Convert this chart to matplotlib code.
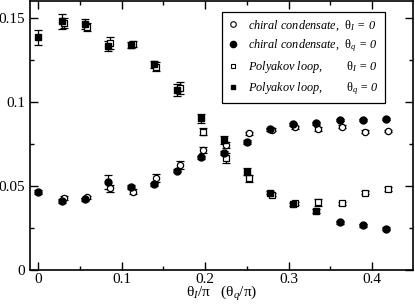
import numpy as np
import matplotlib
matplotlib.use("Agg")
import matplotlib.pyplot as plt
from matplotlib.lines import Line2D
from matplotlib.ticker import MultipleLocator, FormatStrFormatter

plt.rcParams["font.family"] = "Liberation Serif"
plt.rcParams["mathtext.fontset"] = "custom"
plt.rcParams["mathtext.rm"] = "Liberation Serif"
plt.rcParams["mathtext.it"] = "Liberation Serif:italic"

# theta_q/pi for the theta_q = 0 runs, theta_I/pi (shifted a bit) for theta_I = 0
x_q = [0.0, 0.0278, 0.0556, 0.0833, 0.1111, 0.1389, 0.1667, 0.1944,
       0.2222, 0.25, 0.2778, 0.3056, 0.3333, 0.3611, 0.3889, 0.4167]
x_i = [0.0303, 0.0581, 0.0858, 0.1136, 0.1414, 0.1692, 0.1969,
       0.2247, 0.2525, 0.2803, 0.3081, 0.3358, 0.3636, 0.3914, 0.4192]

chiral_q = [0.0462, 0.0412, 0.0420, 0.0524, 0.0492, 0.0510, 0.0591, 0.0670,
            0.0694, 0.0764, 0.0837, 0.0867, 0.0873, 0.0893, 0.0893, 0.0899]
chiral_q_err = [0.0012, 0.0012, 0.0010, 0.0040, 0.0012, 0.0010, 0.0010, 0.0010,
                0.0012, 0.0012, 0.0008, 0.0008, 0.0008, 0.0008, 0.0008, 0.0008]

chiral_i = [0.0427, 0.0432, 0.0486, 0.0466, 0.0546, 0.0625, 0.0714,
            0.0744, 0.0813, 0.0835, 0.0849, 0.0839, 0.0853, 0.0823, 0.0827]
chiral_i_err = [0.0012, 0.0010, 0.0020, 0.0015, 0.0025, 0.0025, 0.0015,
                0.0020, 0.0010, 0.0008, 0.0008, 0.0012, 0.0008, 0.0010, 0.0008]

poly_q = [0.1385, 0.1480, 0.1464, 0.1335, 0.1339, 0.1224, 0.1071, 0.0903,
          0.0774, 0.0585, 0.0460, 0.0391, 0.0351, 0.0284, 0.0266, 0.0246]
poly_q_err = [0.0045, 0.0045, 0.0030, 0.0030, 0.0020, 0.0020, 0.0035, 0.0028,
              0.0025, 0.0022, 0.0010, 0.0008, 0.0010, 0.0008, 0.0008, 0.0008]

poly_i = [0.1472, 0.1444, 0.1349, 0.1345, 0.1210, 0.1085, 0.0823,
          0.0664, 0.0545, 0.0448, 0.0397, 0.0403, 0.0397, 0.0460, 0.0482]
poly_i_err = [0.0030, 0.0025, 0.0035, 0.0020, 0.0028, 0.0035, 0.0020,
              0.0030, 0.0020, 0.0010, 0.0010, 0.0022, 0.0010, 0.0010, 0.0010]

labels = [r"chiral condensate,  $\mathrm{\theta}_I$ = 0",
          r"chiral condensate,  $\mathrm{\theta}_q$ = 0",
          r"Polyakov loop,        $\mathrm{\theta}_I$ = 0",
          r"Polyakov loop,        $\mathrm{\theta}_q$ = 0"]

fig = plt.figure(figsize=(4.15, 3.06), dpi=100)
ax = fig.add_axes([0.0723, 0.1176, 0.9227, 0.879])

eb = dict(ls="none", ecolor="black", elinewidth=0.9, capsize=3, capthick=0.9)

# open symbols first, filled ones on top
ax.errorbar(x_i, poly_i, yerr=poly_i_err, marker="s", ms=4, mfc="white",
            mec="black", mew=0.9, **eb)
ax.errorbar(x_i, chiral_i, yerr=chiral_i_err, marker="o", ms=4.5, mfc="white",
            mec="black", mew=0.9, **eb)
ax.errorbar(x_q, chiral_q, yerr=chiral_q_err, marker="o", ms=5, mfc="black",
            mec="black", **eb)

# last Polyakov (theta_q) points show up as round symbols in the original
xq = np.array(x_q)
pq = np.array(poly_q)
pqe = np.array(poly_q_err)
sq = xq < 0.35
ax.errorbar(xq[sq], pq[sq], yerr=pqe[sq], marker="s", ms=4.5, mfc="black",
            mec="black", **eb)
ax.errorbar(xq[~sq], pq[~sq], yerr=pqe[~sq], marker="o", ms=5, mfc="black",
            mec="black", **eb)

ax.set_xlim(-0.01, 0.449)
ax.set_ylim(0, 0.16)
ax.xaxis.set_major_locator(MultipleLocator(0.1))
ax.xaxis.set_minor_locator(MultipleLocator(0.05))
ax.yaxis.set_major_locator(MultipleLocator(0.05))
ax.yaxis.set_minor_locator(MultipleLocator(0.025))
ax.xaxis.set_major_formatter(FormatStrFormatter("%g"))
ax.yaxis.set_major_formatter(FormatStrFormatter("%g"))
ax.tick_params(which="both", direction="in", top=True, right=True,
               labelsize=11, width=1)
ax.tick_params(axis="x", pad=2)
ax.tick_params(which="major", length=6)
ax.tick_params(which="minor", length=3)
for s in ax.spines.values():
    s.set_linewidth(1.2)

ax.set_xlabel(r"$\mathrm{\theta}_I/\mathrm{\pi}$   $(\mathrm{\theta}_q/\mathrm{\pi})$",
              fontsize=11, labelpad=-1)

handles = [
    Line2D([], [], ls="none", marker="o", ms=4, mfc="white", mec="black", mew=0.8),
    Line2D([], [], ls="none", marker="o", ms=4.5, mfc="black", mec="black"),
    Line2D([], [], ls="none", marker="s", ms=3.5, mfc="white", mec="black", mew=0.8),
    Line2D([], [], ls="none", marker="s", ms=3.5, mfc="black", mec="black"),
]
leg = ax.legend(handles, labels, loc="upper left", bbox_to_anchor=(0.501, 0.959),
                borderaxespad=0, fancybox=False, framealpha=1,
                prop=dict(family="Liberation Serif", style="italic", size=8.8),
                handlelength=0.8, handletextpad=0.8, labelspacing=0.4,
                borderpad=0.5)
leg.get_frame().set_edgecolor("black")
leg.get_frame().set_linewidth(0.9)

fig.savefig("out.png", dpi=100)
